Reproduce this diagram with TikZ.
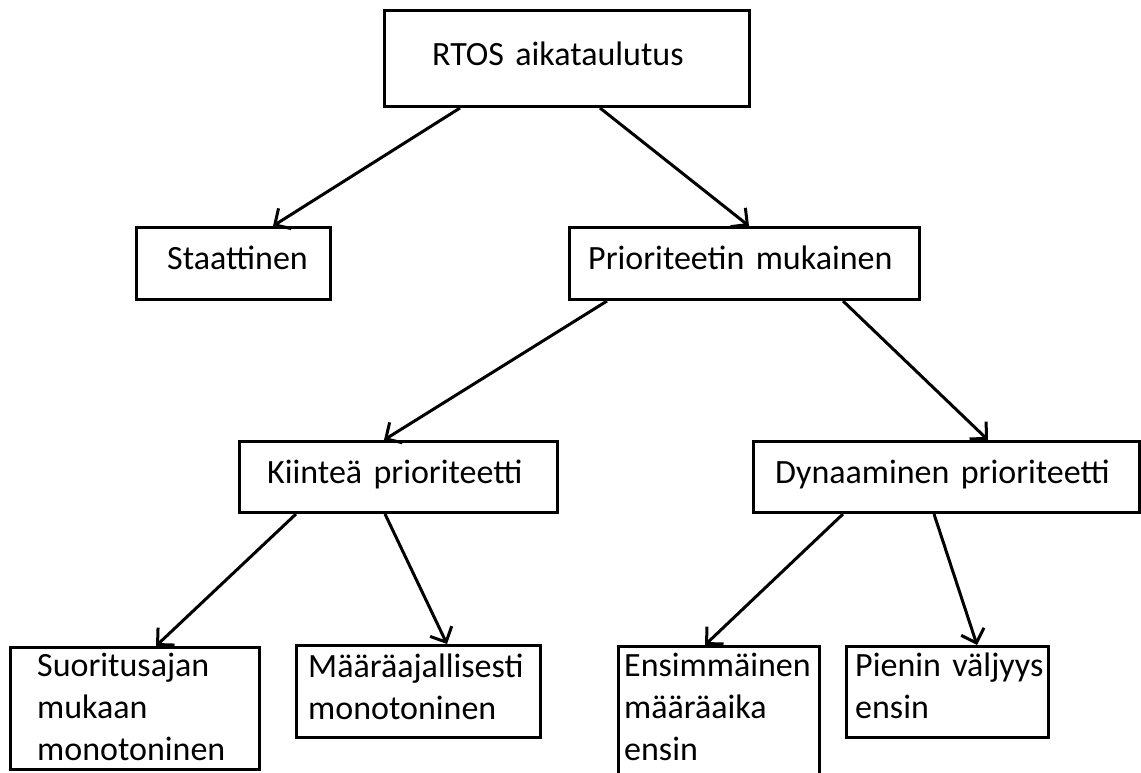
\documentclass[tikz,border=0pt]{standalone}
\usepackage{fontspec}
\setmainfont{Carlito}
\usetikzlibrary{arrows.meta,calc}
\begin{document}
\begin{tikzpicture}[x=1pt,y=-1pt,
  box/.style={draw, line width=3pt, rectangle, inner sep=0pt, anchor=north west},
  lbl/.style={anchor=base west, inner sep=0pt, text width=400pt, align=left,
              font=\fontsize{34}{42}\selectfont},
  link/.style={line width=3pt,
               -{Straight Barb[length=12pt,width=24pt,line width=3pt]}}]
  \useasboundingbox (0,0) rectangle (1141,773);
  \clip (0,0) rectangle (1141,773);

  % boxes
  \node[box, minimum width=365pt, minimum height=96pt]  (top)  at (383,9)   {};
  \node[box, minimum width=194pt, minimum height=72pt]  (stat) at (135,226) {};
  \node[box, minimum width=350pt, minimum height=72pt]  (prio) at (568,226) {};
  \node[box, minimum width=318pt, minimum height=71pt]  (kiin) at (238,440) {};
  \node[box, minimum width=386pt, minimum height=71pt]  (dyn)  at (752,440) {};
  \node[box, minimum width=249pt, minimum height=122pt] (suor) at (9,646)   {};
  \node[box, minimum width=244pt, minimum height=92pt]  (maar) at (295,644) {};
  \node[box, minimum width=201pt, minimum height=150pt] (ens)  at (617,645) {};
  \node[box, minimum width=202pt, minimum height=91pt]  (pien) at (845,645) {};

  % labels
  \node[lbl] (topT)  at (432,66)  {RTOS aikataulutus};
  \node[lbl] (statT) at (167,269) {Staattinen};
  \node[lbl] (prioT) at (588,269) {Prioriteetin mukainen};
  \node[lbl] (kiinT) at (267,483) {Kiinteä prioriteetti};
  \node[lbl] (dynT)  at (775,483) {Dynaaminen prioriteetti};
  \node[lbl] (suorT) at (37,676)  {Suoritusajan\\mukaan\\monotoninen};
  \node[lbl] (maarT) at (308,677) {Määräajallisesti\\monotoninen};
  \node[lbl] (ensT)  at (624,676) {Ensimmäinen\\määräaika\\ensin};
  \node[lbl] (pienT) at (855,676) {Pienin väljyys\\ensin};

  % connectors
  \draw[link] ($(top.south west)+(77,0)$)   -- ($(stat.north west)+(138,0)$);
  \draw[link] ($(top.south west)+(217,0)$)  -- ($(prio.north west)+(181,0)$);
  \draw[link] ($(prio.south west)+(39,0)$)  -- ($(kiin.north west)+(146,0)$);
  \draw[link] ($(prio.south west)+(275,0)$) -- ($(dyn.north west)+(236,0)$);
  \draw[link] ($(kiin.south west)+(58,0)$)  -- ($(suor.north west)+(147,0)$);
  \draw[link] ($(kiin.south west)+(147,0)$) -- ($(maar.north west)+(152,0)$);
  \draw[link] ($(dyn.south west)+(91,0)$)   -- ($(ens.north west)+(88,0)$);
  \draw[link] ($(dyn.south west)+(182,0)$)  -- ($(pien.north west)+(132,0)$);
\end{tikzpicture}
\end{document}
